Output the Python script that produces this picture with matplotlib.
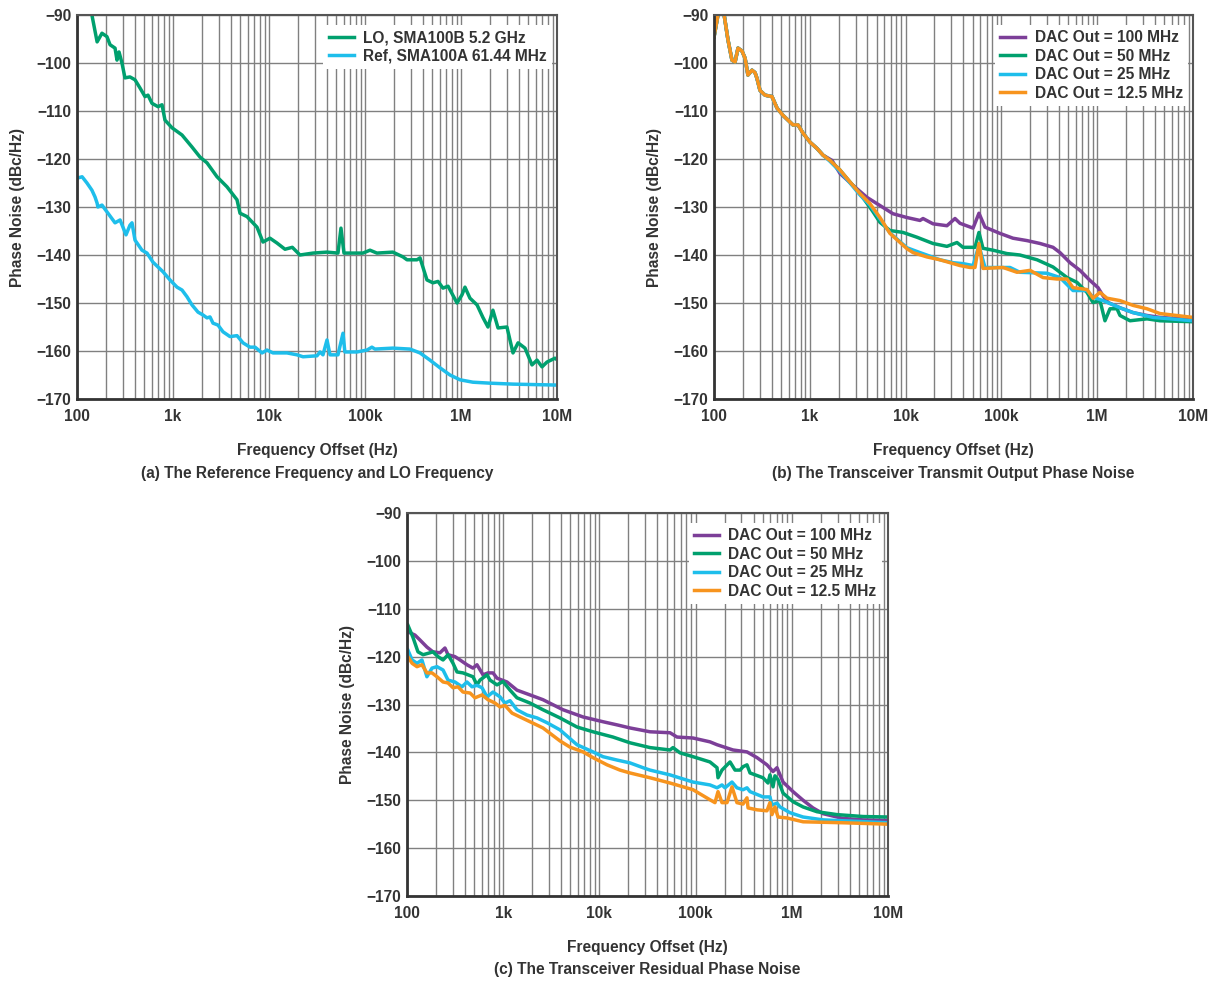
import matplotlib
matplotlib.use("Agg")
import matplotlib.pyplot as plt
from matplotlib.ticker import FixedLocator, LogLocator, NullFormatter

plt.rcParams['font.family'] = ['Liberation Sans', 'DejaVu Sans']
plt.rcParams['font.weight'] = 'bold'

TEXT = '#333333'
GREEN = '#00A06E'
CYAN = '#1EBEEB'
PURPLE = '#7C3F98'
ORANGE = '#F7941E'

# ---- (a) reference and LO ----
lo_f = [125, 143, 162, 182, 205, 221, 249, 261, 274, 294, 316, 356, 402, 453, 511, 549,
        604, 698, 768, 825, 977, 1241, 1577, 1911, 2260, 2873, 3652, 4642, 4990, 5900,
        7500, 8660, 10240, 12100, 14680, 17500, 21000, 28700, 40200, 52300, 56200, 60400,
        95300, 112700, 133000, 195000, 249000, 274000, 348000, 374000, 442000, 511000,
        576000, 649000, 733000, 909000, 1.024e6, 1.10e6, 1.24e6, 1.47e6, 1.69e6, 1.91e6,
        2.15e6, 2.43e6, 3.01e6, 3.48e6, 3.93e6, 4.64e6, 5.49e6, 6.19e6, 6.98e6, 7.87e6,
        9.53e6, 1e7]
lo_db = [-85, -90, -95.6, -93.8, -94.5, -96.2, -96.9, -99.4, -97.7, -100, -103.1, -102.9,
         -103.5, -105.2, -107, -106.7, -108.4, -109.1, -108.7, -111.9, -113.5, -115, -117.5,
         -119.6, -120.8, -123.7, -125.8, -128.5, -131.3, -132, -134.2, -137.3, -136.5,
         -137.5, -138.8, -138.4, -140, -139.6, -139.4, -139.6, -134.4, -139.6, -139.6, -139,
         -139.6, -139.4, -140.4, -141, -141, -140.6, -145.2, -145.8, -145.5, -146.9, -146.5,
         -150, -148.3, -146.7, -149, -150.4, -153, -155, -151.5, -155.2, -155, -160.4,
         -158.3, -159.4, -162.9, -161.9, -163.3, -162.3, -161.5, -161.8]

ref_f = [100, 113, 127, 143, 154, 162, 165, 182, 205, 249, 281, 324, 356, 374, 402, 475,
         536, 619, 787, 931, 1101, 1241, 1399, 1577, 1821, 2054, 2260, 2429, 2610, 2942,
         3318, 3925, 4642, 5360, 6340, 7150, 8460, 9530, 11000, 15400, 19600, 22600,
         31600, 34000, 36500, 40200, 43200, 52300, 59000, 61700, 82500, 105000, 118000,
         127000, 195000, 294000, 374000, 475000, 604000, 768000, 977000, 1.33e6, 2.0e6,
         3.48e6, 1e7]
ref_db = [-124, -123.7, -125, -126.5, -127.9, -129.2, -130, -129.6, -131, -133.3, -132.7,
          -135.8, -133.8, -133.3, -136.9, -139, -139.6, -141.5, -143.5, -145.2, -146.7,
          -147.3, -148.7, -150.4, -151.9, -152.5, -153.1, -152.9, -154.2, -154.6, -156,
          -157, -156.8, -158.3, -159.2, -159.2, -160.4, -159.8, -160.4, -160.4, -160.8,
          -161.2, -161, -160.2, -160.8, -157.7, -160.8, -160.8, -156.3, -160.2, -160.2,
          -159.8, -159.2, -159.6, -159.4, -159.6, -160.4, -161.9, -163.5, -165, -166,
          -166.5, -166.7, -166.9, -167.1]

# ---- (b) transmit output ----
tx_close_f = [100, 110, 121, 140, 154, 166, 178, 196, 211, 226, 249, 268, 281, 302, 341,
              403, 455, 525, 668, 753, 849, 1005, 1189, 1374]
tx_close_db = [-94.6, -90, -87, -95.2, -99.4, -99.8, -96.9, -97.5, -99, -102.5, -101.5,
               -102, -103.2, -105.7, -106.7, -107, -109.4, -110.9, -112.9, -112.9, -114.6,
               -116.5, -117.8, -119.2]

tx100_f = [1706, 2066, 2826, 3955, 5405, 7380, 10350, 14130, 15200, 19300, 27000, 32800,
           37000, 50600, 58300, 67400, 96600, 132000, 185000, 253000, 346000, 409000,
           520000, 661000, 841000, 1.02e6, 1.15e6, 1.3e6, 1.73e6, 2.37e6, 3.31e6, 4.52e6, 1e7]
tx100_db = [-120.3, -123, -125.5, -128, -129.7, -131.4, -132.2, -132.8, -132.4, -133.5,
            -133.9, -132.4, -133.4, -134.4, -131.3, -134.2, -135.5, -136.5, -137, -137.6,
            -138.4, -139.5, -141.6, -143.2, -145.3, -146.8, -148.5, -149.9, -151, -152,
            -152.6, -153, -153.5]

tx50_f = [1626, 2066, 2630, 3342, 4500, 5405, 6870, 9400, 13150, 19300, 27000, 34400,
          39700, 53000, 58300, 64200, 81700, 114000, 156000, 236000, 346000, 484000,
          615000, 783000, 904000, 1.07e6, 1.205e6, 1.36e6, 1.61e6, 1.73e6, 2.2e6, 3.31e6,
          4.52e6, 1e7]
tx50_db = [-120.3, -122.3, -124.8, -127.2, -130.8, -133.2, -134.9, -135.3, -136.3, -137.6,
           -138.2, -137.4, -138.4, -138.4, -135.3, -138.6, -139, -139.7, -140, -141,
           -142.5, -144.7, -145.7, -147.8, -149.9, -149.5, -153.7, -151.2, -151.2, -152.6,
           -153.7, -153.3, -153.7, -153.9]

tx25_f = [1626, 2066, 2630, 3342, 4247, 5405, 6870, 10350, 14130, 22850, 31300, 39700,
          50600, 58300, 67400, 123000, 156000, 299000, 409000, 559000, 783000, 904000,
          1.15e6, 1.73e6, 2.37e6, 3.82e6, 1e7]
tx25_db = [-120.5, -122.6, -125, -127.5, -129.6, -132.5, -135.4, -138.5, -139.5, -141,
           -141.6, -141.8, -142.2, -138, -142.6, -142.6, -143.6, -143.8, -144.7, -147.4,
           -147.4, -148.8, -149.5, -151, -152, -153, -153.7]

tx12_f = [1626, 2066, 2630, 3342, 4247, 5405, 6870, 10350, 11950, 16700, 22850, 37000,
          47000, 53000, 58300, 64200, 104000, 145600, 199000, 272000, 380000, 484000,
          559000, 783000, 904000, 1.07e6, 1.265e6, 1.73e6, 2.37e6, 3.31e6, 4.52e6, 1e7]
tx12_db = [-120.3, -122.3, -124.8, -127.2, -129.3, -132.2, -135.5, -138.7, -139.5, -140.4,
           -141, -142.2, -142.6, -142.6, -137.6, -142.8, -142.6, -143.6, -143.2, -144.7,
           -145, -145, -146.8, -147.2, -149, -147.8, -149, -149.5, -150.5, -151.2, -152.2,
           -153]

# ---- (c) residual ----
res100_f = [102, 121, 136, 161, 186, 220, 248, 267, 315, 356, 420, 485, 534, 617, 695, 783,
            862, 1096, 1390, 1900, 2592, 4188, 6755, 10900, 15600, 20800, 33560, 54200,
            64100, 94000, 141000, 167000, 245000, 342000, 435000, 552000, 638000, 702000,
            811000, 1.03e6, 1.31e6, 1.66e6, 2.11e6, 3.41e6, 5.5e6, 1e7]
res100_db = [-114.8, -115.5, -116.5, -118, -119, -119.2, -118.2, -119.6, -120, -120.7,
             -121.7, -122.4, -121.7, -123.8, -123.4, -123.4, -124.5, -125.3, -127, -128,
             -129, -131.1, -132.6, -133.6, -134.3, -134.9, -135.7, -135.9, -136.8, -137,
             -137.8, -138.4, -139.5, -139.9, -141.1, -142.6, -144, -143.2, -146.2, -148.2,
             -150, -151.6, -152.8, -153.8, -154.1, -154.2]

res50_f = [102, 115, 130, 147, 173, 186, 210, 237, 267, 301, 331, 382, 485, 534, 574, 679,
           729, 862, 995, 1178, 1390, 1900, 2592, 3890, 5845, 8580, 13840, 20800, 33560,
           54200, 58200, 68900, 94000, 141000, 167000, 171000, 188000, 228000, 257000,
           290000, 311000, 342000, 368000, 502000, 566000, 593000, 638000, 668000, 719000,
           811000, 1.03e6, 1.31e6, 1.83e6, 2.95e6, 5.5e6, 1e7]
res50_db = [-113.4, -115.9, -119, -119.6, -119.2, -119, -120, -120.7, -119.6, -121.4,
            -123.2, -123.4, -124.2, -125.9, -124.9, -123.8, -124.9, -125.9, -125.2, -127,
            -128.6, -129.7, -131.1, -132.8, -134.7, -135.7, -136.8, -138, -139, -139.5,
            -139, -140.1, -140.9, -142, -143.2, -145.3, -143.7, -142, -143.7, -143.7, -143,
            -142.6, -144.3, -145.3, -146.4, -144.7, -147.2, -144.9, -145.7, -148.5, -150.3,
            -151.4, -152.4, -153, -153.4, -153.5]

res25_f = [102, 113, 127, 143, 161, 182, 205, 237, 267, 315, 373, 420, 474, 534, 602, 679,
           783, 926, 1044, 1178, 1390, 1767, 2245, 2851, 3890, 5845, 8580, 10900, 15230,
           20800, 28400, 33560, 54200, 94000, 141000, 167000, 188000, 202000, 239000,
           269000, 311000, 342000, 368000, 502000, 593000, 622000, 702000, 754000, 958000,
           1.31e6, 2.11e6, 1e7]
res25_db = [-118.6, -120.7, -121.4, -120.7, -124.2, -122.4, -122.1, -122.8, -124.9, -125.3,
            -126.3, -125.3, -126.3, -126, -126.5, -128.4, -127.4, -128.4, -129.7, -129.2,
            -131.1, -132.2, -132.8, -133.8, -135.3, -138.4, -139.9, -140.9, -141.6, -142.2,
            -143.2, -143.7, -144.7, -146.2, -146.8, -147.4, -146.8, -147.4, -146.2, -147.4,
            -147.8, -147.4, -148.2, -149.3, -149.3, -151, -150.6, -151.4, -152.6, -153.5,
            -154.1, -154.7]

res12_f = [102, 113, 127, 143, 161, 182, 205, 237, 267, 301, 339, 382, 452, 509, 602, 695,
           822, 926, 1044, 1235, 1495, 1900, 2592, 3890, 4945, 6755, 8580, 12000, 16360,
           20800, 33560, 54200, 94000, 141000, 159000, 171000, 188000, 212000, 239000,
           269000, 311000, 342000, 351000, 435000, 552000, 593000, 622000, 668000, 719000,
           891000, 1.31e6, 3.41e6, 1e7]
res12_db = [-120, -121.4, -122.1, -121.7, -123.4, -123.4, -124.2, -125.3, -125.5, -126.5,
            -126.3, -127.4, -127.6, -128.6, -128, -129, -129.7, -130.5, -130.2, -131.8,
            -132.6, -133.6, -134.9, -137.6, -138.9, -139.9, -141.1, -142.6, -143.7, -144.3,
            -145.3, -146.4, -147.8, -149.9, -150.5, -148.2, -150.5, -150.5, -147.2, -150.5,
            -150.8, -149.5, -151.6, -152, -152.2, -150.5, -153, -151.4, -153.5, -153.7,
            -154.5, -154.7, -155]

x_ticks = [100, 1e3, 1e4, 1e5, 1e6, 1e7]
x_labels = ['100', '1k', '10k', '100k', '1M', '10M']
y_ticks = [-170, -160, -150, -140, -130, -120, -110, -100, -90]

dac_labels = ['DAC Out = 100 MHz', 'DAC Out = 50 MHz', 'DAC Out = 25 MHz',
              'DAC Out = 12.5 MHz']

FS = 11.2
LW = 2.5


def style_axis(ax, caption, legend_anchor):
    ax.set_xscale('log')
    ax.set_xlim(100, 1e7)
    ax.set_ylim(-170, -90)
    ax.xaxis.set_major_locator(FixedLocator(x_ticks))
    ax.set_xticklabels(x_labels)
    ax.xaxis.set_minor_locator(LogLocator(base=10, subs=range(2, 10)))
    ax.xaxis.set_minor_formatter(NullFormatter())
    ax.set_yticks(y_ticks)
    ax.set_yticklabels(['\u2212' + str(-v) for v in y_ticks])
    ax.tick_params(which='both', length=0, colors=TEXT, labelsize=FS)
    ax.tick_params(axis='x', pad=7)
    ax.tick_params(axis='y', pad=4)
    ax.grid(True, which='both', color='#808080', linewidth=1.0)
    ax.set_axisbelow(True)
    for side in ['top', 'right']:
        ax.spines[side].set_color('#555555')
        ax.spines[side].set_linewidth(1.5)
    for side in ['left', 'bottom']:
        ax.spines[side].set_color('#333333')
        ax.spines[side].set_linewidth(2)

    ax.set_xlabel('Frequency Offset (Hz)', fontsize=FS, fontweight='bold',
                  color=TEXT, labelpad=14)
    ax.set_ylabel('Phase Noise (dBc/Hz)', fontsize=FS, fontweight='bold',
                  color=TEXT, labelpad=8)
    ax.text(0.5, -0.193, caption, transform=ax.transAxes, ha='center', va='center',
            fontsize=FS, fontweight='bold', color=TEXT)

    leg = ax.legend(loc='upper right', bbox_to_anchor=legend_anchor, borderaxespad=0,
                    frameon=True, fancybox=False, framealpha=1, edgecolor='none',
                    handlelength=1.6, handletextpad=0.6, borderpad=0.35,
                    labelspacing=0.22, prop={'size': FS, 'weight': 'bold'})
    for t in leg.get_texts():
        t.set_color(TEXT)


fig = plt.figure(figsize=(12.18, 9.82), dpi=100)

ax_a = fig.add_axes([77 / 1218, 1 - 399 / 982, 480 / 1218, 384 / 982])
ax_a.plot(lo_f, lo_db, color=GREEN, lw=LW, label='LO, SMA100B 5.2 GHz')
ax_a.plot(ref_f, ref_db, color=CYAN, lw=LW, label='Ref, SMA100A 61.44 MHz')
style_axis(ax_a, '(a) The Reference Frequency and LO Frequency', (0.99, 0.974))

ax_b = fig.add_axes([714 / 1218, 1 - 399 / 982, 479 / 1218, 384 / 982])
tx_series = [(tx100_f, tx100_db, PURPLE), (tx50_f, tx50_db, GREEN),
             (tx25_f, tx25_db, CYAN), (tx12_f, tx12_db, ORANGE)]
for (f, db, c), lab in zip(tx_series, dac_labels):
    ax_b.plot(tx_close_f + f, tx_close_db + db, color=c, lw=LW, label=lab)
style_axis(ax_b, '(b) The Transceiver Transmit Output Phase Noise', (0.99, 0.974))

ax_c = fig.add_axes([407 / 1218, 1 - 896 / 982, 481 / 1218, 383 / 982])
res_series = [(res100_f, res100_db, PURPLE), (res50_f, res50_db, GREEN),
              (res25_f, res25_db, CYAN), (res12_f, res12_db, ORANGE)]
for (f, db, c), lab in zip(res_series, dac_labels):
    ax_c.plot(f, db, color=c, lw=LW, label=lab)
style_axis(ax_c, '(c) The Transceiver Residual Phase Noise', (0.9875, 0.974))

fig.savefig('out.png', dpi=100)
